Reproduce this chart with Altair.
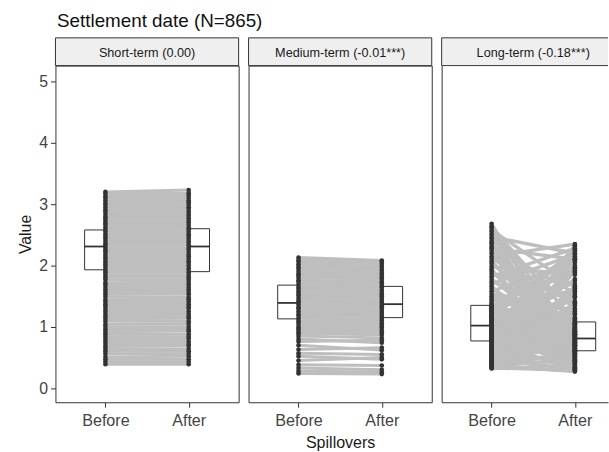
import altair as alt
import pandas as pd

FONT = "Liberation Sans"

panel_names = ["Short-term (0.00)", "Medium-term (-0.01***)", "Long-term (-0.18***)"]
x_labels = ["Before", "After"]

# Per-firm values before / after the spillover, one line per firm
short_before = [
    3.20, 3.17, 3.13, 3.10, 3.06, 3.02, 2.99, 2.95, 2.91, 2.88,
    2.84, 2.80, 2.77, 2.73, 2.69, 2.66, 2.62, 2.58, 2.55, 2.51,
    2.47, 2.44, 2.40, 2.36, 2.33, 2.29, 2.25, 2.22, 2.18, 2.14,
    2.11, 2.07, 2.03, 2.00, 1.96, 1.92, 1.89, 1.85, 1.81, 1.77,
    1.72, 1.69, 1.65, 1.61, 1.57, 1.53, 1.49, 1.44, 1.41, 1.37,
    1.33, 1.29, 1.25, 1.21, 1.17, 1.13, 1.09, 1.04, 1.00, 0.96,
    0.92, 0.88, 0.84, 0.80, 0.76, 0.72, 0.68, 0.64, 0.60, 0.56,
    0.51, 0.47, 0.43, 0.39,
]
short_after = [
    3.23, 3.18, 3.14, 3.10, 3.06, 3.03, 2.99, 2.95, 2.92, 2.88,
    2.84, 2.81, 2.77, 2.73, 2.70, 2.66, 2.62, 2.59, 2.55, 2.51,
    2.48, 2.44, 2.40, 2.37, 2.33, 2.29, 2.26, 2.22, 2.18, 2.15,
    2.11, 2.07, 2.04, 2.00, 1.96, 1.93, 1.89, 1.85, 1.81, 1.77,
    1.73, 1.69, 1.65, 1.61, 1.57, 1.53, 1.48, 1.45, 1.41, 1.37,
    1.33, 1.30, 1.25, 1.21, 1.17, 1.14, 1.09, 1.05, 1.00, 0.96,
    0.93, 0.88, 0.84, 0.81, 0.76, 0.72, 0.69, 0.64, 0.60, 0.56,
    0.52, 0.47, 0.43, 0.39,
]

medium_before = [
    2.13, 2.09, 2.06, 2.02, 1.98, 1.95, 1.91, 1.87, 1.84, 1.80,
    1.76, 1.73, 1.69, 1.65, 1.62, 1.58, 1.54, 1.51, 1.47, 1.43,
    1.40, 1.36, 1.32, 1.29, 1.25, 1.21, 1.18, 1.14, 1.10, 1.07,
    1.03, 0.99, 0.96, 0.92, 0.89,
    0.85, 0.80, 0.76, 0.70, 0.63, 0.57, 0.52, 0.45, 0.38, 0.33, 0.28, 0.24,
]
medium_after = [
    2.08, 2.06, 2.03, 1.99, 1.96, 1.92, 1.88, 1.85, 1.81, 1.78,
    1.74, 1.71, 1.67, 1.64, 1.60, 1.57, 1.53, 1.50, 1.46, 1.42,
    1.39, 1.35, 1.32, 1.28, 1.24, 1.21, 1.17, 1.13, 1.10, 1.06,
    1.02, 0.99, 0.95, 0.91, 0.87,
    0.82, 0.74, 0.78, 0.62, 0.66, 0.55, 0.47, 0.50, 0.37, 0.30, 0.26, 0.23,
]

long_before = [
    2.68, 2.62, 2.55, 2.47, 2.40, 2.35, 2.31, 2.24, 2.15, 2.07,
    1.98, 1.90, 1.82, 1.74, 1.66, 1.58, 1.50, 1.44, 1.38, 1.34,
    1.32, 1.30, 1.28, 1.26, 1.24, 1.21, 1.19, 1.17, 1.16, 1.15,
    1.13, 1.11, 1.09, 1.07, 1.05, 1.03, 1.02, 1.00, 0.99, 0.97,
    0.95, 0.93, 0.91, 0.90, 0.88, 0.87, 0.85, 0.84, 0.83, 0.82,
    0.81, 0.80, 0.79, 0.78, 0.77, 0.76, 0.74, 0.71, 0.69, 0.66,
    0.64, 0.63, 0.61, 0.58, 0.56, 0.53, 0.50, 0.48, 0.45, 0.43,
    0.41, 0.39, 0.37, 0.35, 0.32,
    2.64, 2.58, 2.51, 2.44, 2.37, 2.28, 2.20, 2.11, 2.03, 1.94,
    1.86, 1.78, 1.70, 1.62, 1.54, 1.47, 1.41, 1.36, 1.33, 1.31,
    1.29, 1.27, 1.25, 1.22, 1.20, 1.18, 1.14, 1.12, 1.10, 1.08,
    1.06, 1.04, 1.01, 0.98, 0.96, 0.94, 0.92, 0.89, 0.86, 0.84,
    0.82, 0.80, 0.78, 0.75, 0.72, 0.70, 0.67, 0.65, 0.62, 0.60,
    0.57, 0.54, 0.52, 0.49, 0.47, 0.44, 0.42, 0.40, 0.38, 0.36,
    0.34, 0.33,
]
long_after = [
    0.45, 1.10, 0.70, 2.20, 0.35, 0.33, 1.55, 0.95, 2.35, 0.60,
    1.85, 0.80, 2.28, 1.20, 0.52, 2.05, 0.90, 1.70, 0.66, 1.02,
    2.12, 0.75, 1.07, 0.58, 0.98, 1.95, 0.84, 1.06, 1.42, 0.62,
    0.88, 1.62, 0.72, 1.05, 0.48, 0.92, 0.99, 0.78, 0.64, 1.08,
    0.82, 2.30, 0.70, 1.00, 0.55, 0.86, 0.91, 0.76, 0.40, 0.94,
    0.68, 1.78, 0.80, 0.61, 1.04, 0.74, 0.30, 2.25, 0.79, 1.48,
    1.28, 0.57, 0.85, 2.00, 0.63, 1.35, 0.50, 0.96, 1.90, 0.42,
    0.73, 2.33, 0.27, 0.60, 0.38,
    0.85, 1.65, 0.40, 1.30, 0.75, 2.10, 0.55, 1.40, 0.98, 0.32,
    1.50, 0.70, 2.18, 0.88, 1.15, 0.44, 1.92, 0.93, 0.53, 1.60,
    0.83, 2.22, 0.67, 1.14, 0.36, 0.97, 1.75, 0.59, 0.81, 1.25,
    0.69, 2.08, 0.87, 0.46, 1.52, 0.77, 0.65, 1.88, 0.71, 1.12,
    0.51, 0.89, 2.15, 0.62, 1.58, 0.34, 0.93, 1.97, 0.77, 1.38,
    0.44, 2.27, 0.66, 1.22, 0.31, 1.66, 0.54, 0.88, 2.10, 0.47,
    1.03, 0.29,
]

# Box summaries (quartiles and median) per panel and side
box_panel = [0, 0, 1, 1, 2, 2]
box_side = ["Before", "After", "Before", "After", "Before", "After"]
box_q1 = [1.93, 1.90, 1.13, 1.15, 0.77, 0.61]
box_med = [2.31, 2.31, 1.39, 1.37, 1.02, 0.81]
box_q3 = [2.58, 2.60, 1.68, 1.66, 1.35, 1.08]

y_ticks = [0, 1, 2, 3, 4, 5]

W = 185            # full panel width
W_LAST = 168       # last panel runs off the right edge of the canvas
H = 340
STRIP_H = 28
LINE_GREY = "#BEBEBE"
DARK = "#333333"
TEXT_GREY = "#444444"
STRIP_FILL = "#EFEFEF"
X_LO, X_HI = 0.4, 2.6
Y_DOMAIN = [-0.23, 5.26]


def make_panel(idx, name, before, after, width, line_w, last=False):
    n = len(before)
    lines_df = pd.DataFrame({
        "id": list(range(n)) * 2,
        "t": [1] * n + [2] * n,
        "value": list(before) + list(after),
    })
    boxes_df = pd.DataFrame({
        "panel": box_panel, "side": box_side,
        "q1": box_q1, "med": box_med, "q3": box_q3,
    })
    boxes_df = boxes_df[boxes_df["panel"] == idx].reset_index(drop=True)
    boxes_df["x0"] = [0.75 if s == "Before" else 2.0 for s in boxes_df["side"]]
    boxes_df["x1"] = [1.0 if s == "Before" else 2.25 for s in boxes_df["side"]]

    # keep the same data-to-pixel ratio even when the panel is cut short
    x_hi = X_LO + (X_HI - X_LO) * width / W
    x_scale = alt.Scale(domain=[X_LO, x_hi], nice=False, zero=False)
    y_scale = alt.Scale(domain=Y_DOMAIN, nice=False, zero=False)

    x_axis = alt.Axis(
        values=[1, 2],
        labelExpr="datum.value == 1 ? '%s' : '%s'" % (x_labels[0], x_labels[1]),
        title="Spillovers" if idx == 1 else None,
        grid=False, domain=last, domainColor=DARK, tickSize=5, tickColor=DARK,
        labelFontSize=16.3, labelColor=TEXT_GREY, labelPadding=5,
        titleFontSize=16.2, titleFontWeight="normal", titleColor="#1A1A1A",
        titlePadding=6,
    )
    if idx == 0:
        y_axis = alt.Axis(
            values=y_ticks, format="d", title="Value", grid=False, domain=False,
            tickSize=5, tickColor=DARK, labelFontSize=16, labelColor=TEXT_GREY,
            labelPadding=3, titleFontSize=16, titleFontWeight="normal",
            titleColor="#1A1A1A", titlePadding=5,
        )
    else:
        y_axis = alt.Axis(
            values=y_ticks, title=None, grid=False, domain=last,
            domainColor=DARK, ticks=False, labels=False,
        )

    lines = alt.Chart(lines_df).mark_line(
        color=LINE_GREY, strokeWidth=line_w, clip=True
    ).encode(
        x=alt.X("t:Q", scale=x_scale, axis=x_axis),
        y=alt.Y("value:Q", scale=y_scale, axis=y_axis),
        detail="id:N",
    )
    points = alt.Chart(lines_df).mark_circle(
        color=DARK, size=22, opacity=1
    ).encode(x=alt.X("t:Q"), y=alt.Y("value:Q"))

    boxes = alt.Chart(boxes_df).mark_rect(
        fill="white", stroke=DARK, strokeWidth=1
    ).encode(
        x=alt.X("x0:Q"), x2="x1:Q",
        y=alt.Y("q1:Q"), y2="q3:Q",
    )
    medians = alt.Chart(boxes_df).mark_rule(color=DARK, strokeWidth=1.8).encode(
        x=alt.X("x0:Q"), x2="x1:Q",
        y=alt.Y("med:Q"),
    )

    # facet strip drawn above the plotting area
    strip_df = pd.DataFrame({"label": [name]})
    strip_bg = alt.Chart(strip_df).mark_rect(fill=STRIP_FILL).encode(
        x=alt.value(0), x2=alt.value(width), y=alt.value(-STRIP_H), y2=alt.value(0)
    )
    strip_top = alt.Chart(strip_df).mark_rule(color=DARK, strokeWidth=1).encode(
        x=alt.value(0), x2=alt.value(width), y=alt.value(-STRIP_H)
    )
    strip_bottom = alt.Chart(strip_df).mark_rule(color=DARK, strokeWidth=1).encode(
        x=alt.value(0), x2=alt.value(width), y=alt.value(0)
    )
    strip_left = alt.Chart(strip_df).mark_rule(color=DARK, strokeWidth=1).encode(
        x=alt.value(0), y=alt.value(-STRIP_H), y2=alt.value(0)
    )
    strip_text = alt.Chart(strip_df).mark_text(
        font=FONT, fontSize=12.8, color="#1A1A1A", baseline="middle", align="center"
    ).encode(text="label:N", x=alt.value(W / 2), y=alt.value(-STRIP_H / 2 + 1))

    layers = [lines, boxes, medians, points, strip_bg, strip_top, strip_bottom, strip_left]
    if not last:
        strip_right = alt.Chart(strip_df).mark_rule(color=DARK, strokeWidth=1).encode(
            x=alt.value(width), y=alt.value(-STRIP_H), y2=alt.value(0)
        )
        layers.append(strip_right)
    layers.append(strip_text)

    chart = alt.layer(*layers).properties(width=width, height=H)
    if last:
        chart = chart.properties(view=alt.ViewBackground(stroke="transparent"))
    return chart


panels = [
    make_panel(0, panel_names[0], short_before, short_after, W, 3.0),
    make_panel(1, panel_names[1], medium_before, medium_after, W, 3.0),
    make_panel(2, panel_names[2], long_before, long_after, W_LAST, 3.4, last=True),
]

chart = alt.hconcat(*panels, spacing=8).properties(
    title=alt.TitleParams(
        "Settlement date (N=865)", anchor="start", font=FONT, fontSize=19,
        fontWeight="normal", color="#111111", dx=40, offset=6,
    ),
    padding={"left": 17, "top": 10, "right": 0, "bottom": 0},
).configure_view(
    stroke=DARK, strokeWidth=1
).configure_axis(
    labelFont=FONT, titleFont=FONT
)

chart.save("out.html", embed_options={"renderer": "svg", "actions": False})
